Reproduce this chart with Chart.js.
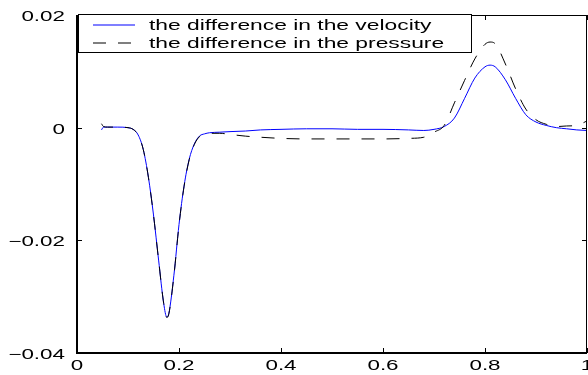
<!DOCTYPE html>
<html>
<head>
<meta charset="utf-8">
<script src="https://cdn.jsdelivr.net/npm/chart.js@4/dist/chart.umd.min.js"></script>
<style>
html,body{margin:0;padding:0;background:#fff;}
#wrap{width:588px;height:375px;position:relative;}
</style>
</head>
<body>
<div id="wrap"><canvas id="c" width="588" height="375"></canvas></div>
<script>
// ---- data ----
const xValues = [0.048, 0.052, 0.06, 0.08, 0.10, 0.11, 0.12, 0.13, 0.14, 0.15, 0.16, 0.17, 0.176, 0.18, 0.19, 0.20, 0.21, 0.22, 0.23, 0.24, 0.25, 0.26, 0.28, 0.30, 0.33, 0.36, 0.40, 0.45, 0.50, 0.55, 0.60, 0.65, 0.68, 0.70, 0.72, 0.74, 0.76, 0.78, 0.80, 0.81, 0.82, 0.84, 0.86, 0.88, 0.90, 0.92, 0.94, 0.96, 0.98, 1.00];
const velocityDiff = [-0.0004, 0.0001, 0.0001, 0.0001, 0.0000, -0.0003, -0.0013, -0.0039, -0.0088, -0.0155, -0.0235, -0.0312, -0.0336, -0.0330, -0.0262, -0.0172, -0.0103, -0.0056, -0.0029, -0.0015, -0.0011, -0.0009, -0.0008, -0.0007, -0.0006, -0.0004, -0.0003, -0.0002, -0.0002, -0.0003, -0.0003, -0.0004, -0.0005, -0.0003, 0.0002, 0.0017, 0.0052, 0.0088, 0.0108, 0.0111, 0.0108, 0.0085, 0.0052, 0.0023, 0.0010, 0.0004, 0.0000, -0.0002, -0.0004, -0.0005];
const pressureDiff = [0.0007, 0.0002, 0.0001, 0.0001, 0.0000, -0.0003, -0.0013, -0.0039, -0.0088, -0.0155, -0.0235, -0.0312, -0.0337, -0.0331, -0.0263, -0.0173, -0.0104, -0.0057, -0.0030, -0.0016, -0.0011, -0.0010, -0.0010, -0.0012, -0.0015, -0.0017, -0.0019, -0.0020, -0.0020, -0.0020, -0.0020, -0.0019, -0.0017, -0.0008, 0.0004, 0.0044, 0.0084, 0.0122, 0.0148, 0.0152, 0.0149, 0.0113, 0.0069, 0.0033, 0.0014, 0.0006, 0.0002, 0.0003, 0.0004, 0.0012];
const seriesLabels = ['the difference in the velocity', 'the difference in the pressure'];
const xTicks = [0, 0.2, 0.4, 0.6, 0.8, 1];
const xTickLabels = ['0', '0.2', '0.4', '0.6', '0.8', '1'];
const yTicks = [-0.04, -0.02, 0, 0.02];
const yTickLabels = ['\u22120.04', '\u22120.02', '0', '0.02'];

const FONT = '14px "Liberation Sans", Arial, Helvetica, sans-serif';
const SX = 1.6;
const LEGEND_SX = 1.63;
const COLORS = ['#0000ff', '#000000'];
const DASHES = [[], [13, 12]];

function toPoints(ys) { return xValues.map((x, i) => ({x: x, y: ys[i]})); }

function stretchText(ctx, text, x, y, align, sx) {
  ctx.save();
  ctx.translate(x, y);
  ctx.scale(sx || SX, 1);
  ctx.textAlign = align;
  ctx.textBaseline = 'middle';
  ctx.fillText(text, 0, 0);
  ctx.restore();
}

const framePlugin = {
  id: 'matlabFrame',
  afterDraw(chart) {
    const ctx = chart.ctx;
    const a = chart.chartArea;
    const xs = chart.scales.x, ys = chart.scales.y;
    ctx.save();
    ctx.strokeStyle = '#000';
    ctx.fillStyle = '#000';
    ctx.lineWidth = 1;
    ctx.beginPath();
    ctx.moveTo(a.left, a.top + 0.5); ctx.lineTo(a.right, a.top + 0.5);
    ctx.moveTo(a.right - 0.5, a.top); ctx.lineTo(a.right - 0.5, a.bottom);
    ctx.stroke();
    ctx.lineWidth = 2;
    ctx.beginPath();
    ctx.moveTo(a.left, a.top); ctx.lineTo(a.left, a.bottom + 1);
    ctx.moveTo(a.left - 1, a.bottom); ctx.lineTo(a.right, a.bottom);
    ctx.stroke();
    ctx.lineWidth = 1;
    ctx.beginPath();
    xTicks.forEach(v => {
      const px = Math.round(xs.getPixelForValue(v)) + 0.5;
      ctx.moveTo(px, a.bottom); ctx.lineTo(px, a.bottom - 5);
      ctx.moveTo(px, a.top); ctx.lineTo(px, a.top + 5);
    });
    yTicks.forEach(v => {
      const py = Math.round(ys.getPixelForValue(v)) + 0.5;
      ctx.moveTo(a.left, py); ctx.lineTo(a.left + 5, py);
      ctx.moveTo(a.right, py); ctx.lineTo(a.right - 5, py);
    });
    ctx.stroke();
    ctx.font = FONT;
    xTicks.forEach((v, i) => {
      stretchText(ctx, xTickLabels[i], xs.getPixelForValue(v), a.bottom + 13, 'center');
    });
    yTicks.forEach((v, i) => {
      stretchText(ctx, yTickLabels[i], a.left - 12, ys.getPixelForValue(v) + 2, 'right');
    });
    // legend
    const lx = 78, ly = 14, lw = 393, lh = 38;
    ctx.fillStyle = '#fff';
    ctx.fillRect(lx, ly, lw, lh);
    ctx.strokeStyle = '#000';
    ctx.lineWidth = 1;
    ctx.strokeRect(lx + 0.5, ly + 0.5, lw, lh);
    const rows = [25, 43];
    seriesLabels.forEach((lab, i) => {
      ctx.strokeStyle = COLORS[i];
      ctx.lineWidth = 1.2;
      ctx.setLineDash(DASHES[i]);
      ctx.beginPath();
      ctx.moveTo(93, rows[i]); ctx.lineTo(135, rows[i]);
      ctx.stroke();
      ctx.setLineDash([]);
      ctx.fillStyle = '#000';
      stretchText(ctx, lab, 149, rows[i] + 1.5, 'left', LEGEND_SX);
    });
    ctx.restore();
  }
};

new Chart(document.getElementById('c'), {
  type: 'line',
  data: {
    datasets: [
      {
        label: seriesLabels[0],
        data: toPoints(velocityDiff),
        borderColor: COLORS[0],
        borderWidth: 1,
        pointRadius: 0,
        cubicInterpolationMode: 'monotone',
        fill: false,
        order: 1
      },
      {
        label: seriesLabels[1],
        data: toPoints(pressureDiff),
        borderColor: COLORS[1],
        borderWidth: 1,
        borderDash: DASHES[1],
        pointRadius: 0,
        cubicInterpolationMode: 'monotone',
        fill: false,
        order: 0
      }
    ]
  },
  options: {
    responsive: false,
    devicePixelRatio: 1,
    animation: false,
    events: [],
    layout: { padding: { left: 77, top: 15, right: 1, bottom: 22 } },
    plugins: { legend: { display: false }, tooltip: { enabled: false } },
    scales: {
      x: { type: 'linear', min: 0, max: 1, display: false },
      y: { type: 'linear', min: -0.04, max: 0.02, display: false }
    }
  },
  plugins: [framePlugin]
});
</script>
</body>
</html>
